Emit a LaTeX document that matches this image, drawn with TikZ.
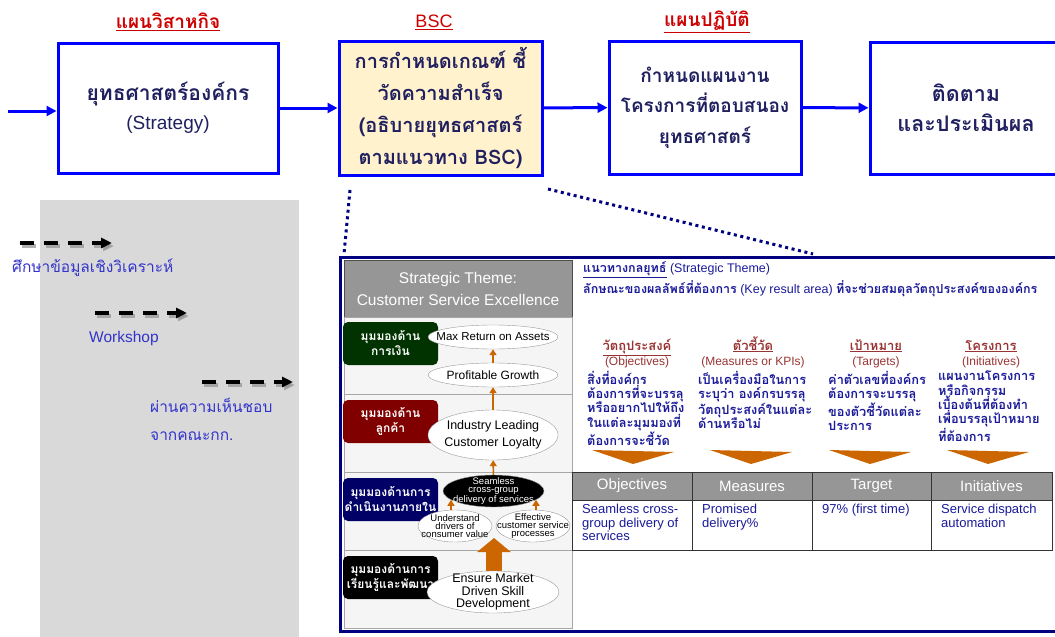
\documentclass[tikz,border=0pt]{standalone}
\usepackage{fontspec}
\setmainfont{Liberation Sans}
\newfontfamily\thai[Script=Thai]{Loma}
\usetikzlibrary{arrows.meta,positioning,calc,shapes.geometric}
\definecolor{Ink}{HTML}{202060}
\definecolor{FlowBlue}{HTML}{0000FF}
\definecolor{TitleRed}{HTML}{CC0000}
\definecolor{BscSoft}{HTML}{FFF2CC}
\definecolor{PanelGray}{HTML}{D9D9D9}
\definecolor{NoteBlue}{HTML}{3333CC}
\definecolor{Navy}{HTML}{000080}
\definecolor{HeadGray}{HTML}{969696}
\definecolor{RowSoft}{HTML}{F5F5F5}
\definecolor{RowLine}{HTML}{A6A6A6}
\definecolor{FinGreen}{HTML}{003300}
\definecolor{CusRed}{HTML}{800000}
\definecolor{IntNavy}{HTML}{000066}
\definecolor{Amber}{HTML}{CC6600}
\definecolor{ColRed}{HTML}{993333}
\definecolor{TextBlue}{HTML}{1A1A99}
\tikzset{
  flow/.style={draw=FlowBlue,line width=3pt,align=center,text=Ink,fill=white,inner sep=2pt,
    font=\thai\bfseries\fontsize{19}{31}\selectfont},
  title/.style={text=TitleRed,font=\thai\bfseries\fontsize{19}{20}\selectfont},
  flowArrow/.style={draw=FlowBlue,line width=3pt,-{Triangle[length=10pt,width=10pt]}},
  noteArrow/.style={draw=black,line width=3.5pt,dash pattern=on 14pt off 10pt,-{Triangle[length=11pt,width=10pt]}},
  noteShadow/.style={draw=gray!80!PanelGray,line width=3.5pt,dash pattern=on 14pt off 10pt,-{Triangle[length=11pt,width=10pt]},opacity=.7},
  note/.style={text=NoteBlue,inner sep=0pt,font=\fontsize{15.5}{28}\selectfont},
  zoomLine/.style={draw=Navy,line width=3pt,dash pattern=on 3pt off 3.6pt},
  rowBox/.style={draw=RowLine,fill=RowSoft,line width=.8pt},
  persp/.style={rounded corners=5pt,minimum width=95pt,minimum height=43pt,text=white,align=center,inner sep=1pt,
    font=\thai\bfseries\fontsize{12}{15}\selectfont},
  goal/.style={ellipse,draw=gray!80,fill=white,align=center,inner xsep=-14pt,inner ysep=-6pt,
    font=\fontsize{12}{17}\selectfont},
  orArrow/.style={draw=Amber,line width=1.6pt,-{Triangle[length=6pt,width=7pt]}},
  fatArrow/.style={draw=Amber,line width=16pt,-{Triangle[length=14pt,width=33pt]}},
  keyText/.style={text=TextBlue,inner sep=0pt,font=\fontsize{12.5}{15}\selectfont},
  colHead/.style={text=ColRed,inner sep=0pt,font=\thai\bfseries\fontsize{13}{15}\selectfont},
  colSub/.style={text=ColRed,inner sep=0pt,font=\fontsize{12}{15}\selectfont},
  colDesc/.style={text=TextBlue,inner sep=0pt,align=left,font=\thai\bfseries\fontsize{12.8}{14.3}\selectfont},
  tblHead/.style={draw=black!80,fill=HeadGray,line width=1pt},
  tblCell/.style={draw=black!80,fill=white,line width=1pt},
  tblHeadText/.style={text=white,font=\fontsize{15}{18}\selectfont},
  tblText/.style={text=TextBlue,inner sep=0pt,align=left,font=\fontsize{13}{13.4}\selectfont}
}
\begin{document}
\begin{tikzpicture}[x=1pt,y=-1pt]
  \useasboundingbox (0,0) rectangle (1055,637);

  % top flow
  \node[flow,minimum width=220pt,minimum height=130pt,font=\thai\bfseries\fontsize{21}{29}\selectfont] (strat) at (168,108)
    {ยุทธศาสตร์องค์กร\\{\normalfont\fontsize{19}{29}\selectfont (Strategy)}};
  \node[flow,fill=BscSoft,minimum width=203pt,minimum height=134pt,font=\thai\bfseries\fontsize{20}{32}\selectfont] (bsc) at (440.5,108)
    {การกำหนดเกณฑ์ ชี้\\วัดความสำเร็จ\\(อธิบายยุทธศาสตร์\\ตามแนวทาง BSC)};
  \node[flow,minimum width=192pt,minimum height=133pt,font=\thai\bfseries\fontsize{19}{30.5}\selectfont] (plan) at (705,107.5)
    {กำหนดแผนงาน\\โครงการที่ตอบสนอง\\ยุทธศาสตร์};
  \node[flow,minimum width=192pt,minimum height=132pt,font=\thai\bfseries\fontsize{21.5}{30}\selectfont] (track) at (966,108)
    {ติดตาม\\และประเมินผล};
  \node[title] (tStrat) at (168,22) {\underline{แผนวิสาหกิจ}};
  \node[title] (tBsc) at (434,22) {\normalfont\fontsize{18}{20}\selectfont\underline{BSC}};
  \node[title] (tPlan) at (707,22) {\underline{แผนปฏิบัติ}};
  \coordinate (start) at (8,111);
  \draw[flowArrow] (start) -- (start -| strat.west);
  \draw[flowArrow] (strat) -- (bsc);
  \draw[flowArrow] (bsc) -- (plan);
  \draw[flowArrow] (plan) -- (track);

  % notes panel
  \fill[PanelGray] (40,200) rectangle (299,640);
  \foreach \n/\xa/\xb/\y in {1/20/112/243,2/95/187/313,3/202/293/382}{
    \coordinate (n\n a) at (\xa,\y);
    \coordinate (n\n b) at (\xb,\y);
    \draw[noteShadow] ([shift={(2,3)}]n\n a) -- ([shift={(2,3)}]n\n b);
    \draw[noteArrow] (n\n a) -- (n\n b);
  }
  \node[note,anchor=west] (nStudy) at (12,268) {\thai ศึกษาข้อมูลเชิงวิเคราะห์};
  \node[note,anchor=west] (nWork) at (89,338) {Workshop};
  \node[note,anchor=north west,align=left] (nAgree) at (150,398) {\thai ผ่านความเห็นชอบ\\\thai จากคณะกก.};

  % zoom lines and frame
  \coordinate (zoomA) at (350,190);
  \coordinate (zoomB) at (548,189);
  \coordinate (frameA) at (344,254);
  \coordinate (frameB) at (813,254);
  \draw[zoomLine] (zoomA) -- (frameA);
  \draw[zoomLine] (zoomB) -- (frameB);
  \draw[Navy,line width=3pt] (340,257) rectangle (1065,631);

  % strategy map
  \node[draw=black!70,fill=HeadGray,text=white,minimum width=228pt,minimum height=57pt,align=center,
    font=\fontsize{15.5}{22}\selectfont] (theme) at (458,288.5) {Strategic Theme:\\Customer Service Excellence};
  \foreach \ya/\yb in {317/394,394/472,472/550,550/628}
    \draw[rowBox] (344,\ya) rectangle (572,\yb);
  \foreach \n/\col/\y/\txt in {fin/FinGreen/343.5/{มุมมองด้าน\\การเงิน},cus/CusRed/421.5/{มุมมองด้าน\\ลูกค้า},
    int/IntNavy/499.5/{มุมมองด้านการ\\ดำเนินงานภายใน},lrn/black/577.5/{มุมมองด้านการ\\เรียนรู้และพัฒนา}}
    \node[persp,fill=\col] (p\n) at (390.5,\y) {\txt};

  \node[goal,minimum width=130pt,minimum height=24pt,font=\fontsize{11.5}{14}\selectfont] (ret) at (493,337) {Max Return on Assets};
  \node[goal,minimum width=130pt,minimum height=24pt] (grow) at (493,375) {Profitable Growth};
  \node[goal,minimum width=130pt,minimum height=50pt,font=\fontsize{12.5}{17}\selectfont] (loyal) at (493,435) {Industry Leading\\Customer Loyalty};
  \node[goal,fill=black,text=white,minimum width=101pt,minimum height=32pt,font=\fontsize{9.5}{8}\selectfont] (seam) at (493.5,491)
    {Seamless\\cross-group\\delivery of services};
  \node[goal,minimum width=74pt,minimum height=32pt,font=\fontsize{9.5}{8}\selectfont] (und) at (455,526)
    {Understand\\drivers of\\consumer value};
  \node[goal,minimum width=74pt,minimum height=32pt,font=\fontsize{9.5}{8}\selectfont] (eff) at (533,526)
    {Effective\\customer service\\processes};
  \draw[orArrow] (grow) -- (ret);
  \draw[orArrow] (loyal) -- (grow);
  \draw[orArrow] (seam) -- (loyal);
  \draw[orArrow] ([xshift=-4pt]und.north) -- ++(0,-10);
  \draw[orArrow] ([xshift=3pt]eff.north) -- ++(0,-10);
  \coordinate (ensTop) at (494,578);
  \coordinate (ensTip) at (494,538);
  \draw[fatArrow] (ensTop) -- (ensTip);
  \node[goal,minimum width=132pt,minimum height=42pt,font=\fontsize{12.5}{12.5}\selectfont] (ens) at (493,592)
    {Ensure Market\\Driven Skill\\Development};

  % key result area
  \node[keyText,anchor=west] (kTheme) at (583,270) {{\thai\bfseries\underline{แนวทางกลยุทธ์}} (Strategic Theme)};
  \node[keyText,anchor=west] (kArea) at (583,289)
    {{\thai\bfseries ลักษณะของผลลัพธ์ที่ต้องการ} (Key result area) {\thai\bfseries ที่จะช่วยสมดุลวัตถุประสงค์ขององค์กร}};
  \foreach \cx/\dx/\th/\en/\desc [count=\k] in {
    637/587/วัตถุประสงค์/Objectives/{สิ่งที่องค์กร\\ต้องการที่จะบรรลุ\\หรืออยากไปให้ถึง\\ในแต่ละมุมมองที่\\ต้องการจะชี้วัด},
    753/698/ตัวชี้วัด/Measures or KPIs/{เป็นเครื่องมือในการ\\ระบุว่า องค์กรบรรลุ\\วัตถุประสงค์ในแต่ละ\\ด้านหรือไม่},
    876/828/เป้าหมาย/Targets/{ค่าตัวเลขที่องค์กร\\ต้องการจะบรรลุ\\ของตัวชี้วัดแต่ละ\\ประการ},
    991/938/โครงการ/Initiatives/{แผนงานโครงการ\\หรือกิจกรรม\\เบื้องต้นที่ต้องทำ\\เพื่อบรรลุเป้าหมาย\\ที่ต้องการ}}{
    \node[colHead,anchor=base] (h\k) at (\cx,350) {\underline{\th}};
    \node[colSub,anchor=base] (s\k) at (\cx,365.5) {(\en)};
    \node[colDesc,anchor=north west] (d\k) at (\dx,371) {\desc};
  }
  \foreach \cx in {633,751,870,988}
    \fill[Amber] (\cx-41,450) -- (\cx+41,452) -- (\cx,464) -- cycle;

  % table
  \foreach \xa/\xb/\hd/\bd [count=\k] in {572/692/Objectives/{Seamless cross-\\group delivery of\\services},
    692/812/Measures/{Promised\\delivery\%},812/931/Target/{97\% (first time)},931/1052/Initiatives/{Service dispatch\\automation}}{
    \draw[tblHead] (\xa,472) rectangle (\xb,500);
    \draw[tblCell] (\xa,500) rectangle (\xb,550);
    \node[tblHeadText] (th\k) at ({(\xa+\xb)/2},486) {\hd};
    \node[tblText,anchor=north west] (tb\k) at (\xa+10,504) {\bd};
  }
\end{tikzpicture}
\end{document}
